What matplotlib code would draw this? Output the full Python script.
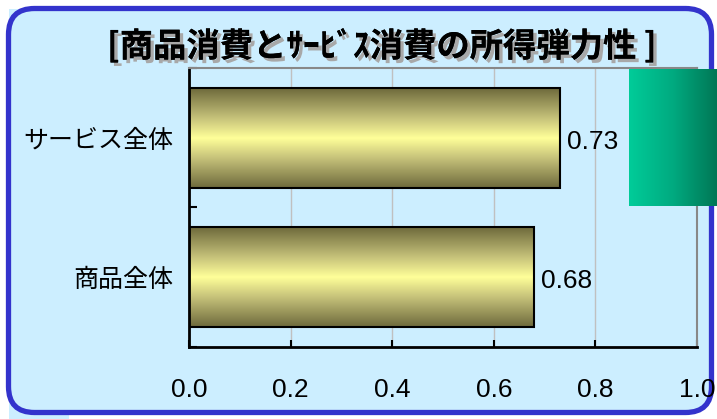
import numpy as np
import matplotlib
matplotlib.use('Agg')
import matplotlib.pyplot as plt
import matplotlib.patheffects as pe
from matplotlib.patches import FancyBboxPatch, Rectangle
from matplotlib.colors import LinearSegmentedColormap

# データ
categories = ['商品全体', 'サービス全体']
values = [0.68, 0.73]
xticks = [0.0, 0.2, 0.4, 0.6, 0.8, 1.0]
xtick_labels = ['0.0', '0.2', '0.4', '0.6', '0.8', '1.0']
title = '[商品消費とｻｰﾋﾞｽ消費の所得弾力性 ]'

W, H = 717, 419
fig = plt.figure(figsize=(W / 100, H / 100), dpi=100)
fig.patch.set_facecolor('white')

# 背景と青い枠
bg = fig.add_axes([0, 0, 1, 1], zorder=0)
bg.set_xlim(0, W)
bg.set_ylim(H, 0)
bg.axis('off')
fill = '#cceeff'
bg.add_patch(Rectangle((9, 9), 60, 410, facecolor=fill, edgecolor='none'))
bg.add_patch(FancyBboxPatch((8.5, 8.5), 703, 404,
                            boxstyle='round,pad=0,rounding_size=26',
                            facecolor=fill, edgecolor='#3333cc', linewidth=3.8))

# タイトル(影付き)
fig.text(382 / W, 1 - 46 / H, title, ha='center', va='center',
         fontsize=24, fontweight='bold', family=['Noto Sans CJK JP', 'DejaVu Sans'],
         color='black',
         path_effects=[pe.withSimplePatchShadow(offset=(2.5, -2.5), shadow_rgbFace='#a8a8a8', alpha=1),
                       pe.Normal()])

# グラフ本体
ax = fig.add_axes([189 / W, 1 - 347 / H, (697 - 189) / W, (347 - 68) / H], zorder=1)
ax.set_facecolor('none')
ax.set_xlim(0, 1.0)
ax.set_ylim(0, 2)

ypos = np.arange(len(categories)) + 0.5
bars = ax.barh(ypos, values, height=0.715, facecolor='none',
               edgecolor='black', linewidth=1.5, zorder=3)

cmap = LinearSegmentedColormap.from_list('olive', [
    (0.0, '#6e6a3c'), (0.3, '#c6c27a'), (0.5, '#ffff99'),
    (0.7, '#c6c27a'), (1.0, '#6e6a3c')])
grad = np.linspace(0, 1, 256).reshape(-1, 1)
for b in bars:
    x0, y0 = b.get_x(), b.get_y()
    ax.imshow(grad, extent=[x0, x0 + b.get_width(), y0, y0 + b.get_height()],
              aspect='auto', cmap=cmap, zorder=2, origin='lower')
ax.set_xlim(0, 1.0)
ax.set_ylim(0, 2)

for yv, v in zip(ypos, values):
    ax.annotate(f'{v:.2f}', (v, yv), xytext=(5, -3), textcoords='offset points',
                ha='left', va='center', fontsize=19,
                family=['Liberation Sans Narrow', 'Liberation Sans'])

# 目盛り
ax.set_xticks(xticks)
ax.set_xticklabels(xtick_labels, fontsize=19,
                   family=['Liberation Sans Narrow', 'Liberation Sans'])
ax.tick_params(axis='x', direction='in', length=5, width=1.5, pad=22)
ax.set_yticks([0, 1, 2])
ax.set_yticklabels([])
ax.tick_params(axis='y', which='major', direction='in', length=6, width=1.5)
ax.set_yticks(ypos, minor=True)
ax.set_yticklabels(categories, minor=True, fontsize=18,
                   family=['Noto Sans CJK JP', 'DejaVu Sans'])
ax.tick_params(axis='y', which='minor', length=0, pad=11)

ax.grid(axis='x', color='#c0c0c0', linewidth=1, zorder=0)
ax.set_axisbelow(True)
for s in ['left', 'bottom']:
    ax.spines[s].set_color('black')
    ax.spines[s].set_linewidth(2)
for s in ['top', 'right']:
    ax.spines[s].set_color('#888888')
    ax.spines[s].set_linewidth(1.5)

# 右上の緑の四角
gax = fig.add_axes([629 / W, 1 - 206 / H, (W - 629) / W, (206 - 69) / H], zorder=5)
gcm = LinearSegmentedColormap.from_list('green', ['#00cc99', '#00aa80', '#007755'])
gax.imshow(np.linspace(0, 1, 256).reshape(1, -1), aspect='auto', cmap=gcm)
gax.axis('off')

fig.savefig('out.png', dpi=100)
